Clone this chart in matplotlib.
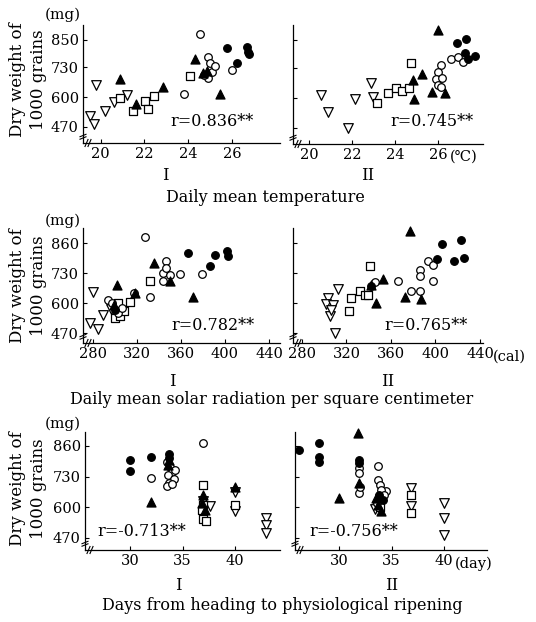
import matplotlib
matplotlib.use("Agg")
import matplotlib.pyplot as plt

# ---------------- data ----------------
# group codes: v = open inverted triangle, s = open square, o = open circle,
#              O = filled circle, T = filled triangle
temp1_x = [19.8, 19.5, 19.7, 20.2, 20.6, 21.2,
           20.9, 21.5, 22.05, 22.15, 22.45, 24.1,
           20.9, 21.6, 22.85, 24.3, 24.7, 25.45, 24.85,
           24.55, 23.8, 24.9, 25.0, 24.9, 25.1, 25.25, 26.0, 24.75,
           25.8, 26.25, 26.7, 26.75, 26.8]
temp1_y = [655, 517, 485, 538, 577, 608,
           596, 538, 582, 550, 606, 693,
           680, 570, 644, 766, 705, 615, 715,
           875, 615, 775, 751, 683, 712, 734, 717, 698,
           814, 751, 817, 799, 789]
temp1_g = list("vvvvvv" "ssssss" "TTTTTTT" "ooooooooo" "OOOOO")

temp2_x = [20.55, 20.9, 21.8, 22.15, 22.9, 23.0,
           23.15, 23.7, 24.05, 24.35, 24.65, 24.75,
           26.0, 25.25, 24.85, 24.9, 25.75, 26.35,
           26.15, 26.0, 25.9, 26.2, 26.0, 26.15, 26.6, 26.95, 27.15,
           26.9, 27.3, 27.25, 27.4, 27.75]
temp2_y = [612, 540, 468, 595, 666, 605,
           579, 620, 641, 631, 641, 749,
           893, 703, 677, 594, 627, 622,
           742, 713, 680, 684, 656, 646, 766, 778, 756,
           838, 853, 792, 766, 781]
temp2_g = list("vvvvvv" "ssssss" "TTTTTT" "ooooooooo" "OOOOO")

rad1_x = [280, 277, 285, 289, 296,
          303, 314, 331.5, 300, 305, 308,
          302, 318.5, 335.7, 350, 371, 299,
          327.6, 331.5, 343.6, 346.6, 346.6, 343.6, 350, 358.7, 379, 317, 294, 303, 297, 306,
          366, 391, 386.5, 401.6, 403, 300]
rad1_y = [648, 513, 489, 550, 575,
          600, 603, 694, 535, 545, 565,
          679, 643, 773, 694, 625, 590,
          885, 625, 730, 781, 752, 697, 720, 726, 726, 643, 615, 557, 600, 580,
          817, 809, 759, 824, 802, 570]
rad1_g = list("vvvvv" "ssssss" "TTTTTT" "oooooooooooooo" "OOOOOO")

rad2_x = [312.5, 303.6, 302, 308, 305, 309.6, 306,
          322.4, 324.5, 332, 336.4, 339.4, 341,
          376.7, 341.8, 346.9, 352.8, 372.2, 387.2,
          345.4, 366.4, 378.4, 385.8, 385.8, 385.8, 393.3, 397.8, 397.8,
          405.7, 401.5, 416.4, 423, 426, 342]
rad2_y = [662, 622, 596, 593, 542, 470, 570,
          567, 622, 654, 636, 633, 759,
          910, 680, 600, 706, 625, 619,
          691, 697, 654, 654, 744, 716, 783, 765, 697,
          856, 792, 783, 874, 797, 672]
rad2_g = list("vvvvvvv" "ssssss" "TTTTTT" "ooooooooo" "OOOOOO")

days1_x = [30, 30, 32, 33.7, 33.7,
           32, 37, 33.5, 33.8, 34.0, 33.6, 34.2, 33.7, 33.5, 34.3, 34.0,
           32, 33.7, 33.6, 37, 36.9, 37.1, 40,
           37, 37, 36.9, 37, 37.2, 40,
           37.6, 40, 40, 43, 43, 43, 37.0]
days1_y = [801, 754, 815, 825, 808,
           726, 871, 790, 770, 750, 735, 720, 705, 690, 760, 700,
           621, 800, 780, 650, 620, 590, 688,
           695, 610, 590, 550, 540, 611,
           604, 663, 583, 555, 526, 491, 625]
days1_g = list("OOOOO" "ooooooooooo" "TTTTTTT" "ssssss" "vvvvvvv")

days2_x = [26.2, 28.1, 28.1, 28.1, 31.9, 31.9, 33.8, 34.2,
           31.8, 30, 31.9, 33.7, 34.0, 33.5,
           31.9, 31.9, 31.9, 32.0, 33.7, 33.7, 33.9, 34.5, 34.0, 33.6, 34.3,
           33.4, 36.9, 36.9, 40.0, 40.0, 40.0,
           36.9, 36.9, 33.9]
days2_y = [843, 871, 815, 790, 801, 787, 650, 630,
           916, 639, 702, 610, 585, 640,
           766, 745, 660, 685, 773, 716, 695, 667, 675, 620, 650,
           592, 681, 604, 618, 554, 484,
           650, 576, 600]
days2_g = list("OOOOOOOO" "TTTTTT" "ooooooooooo" "vvvvvv" "sss")

temp_ticks = [20, 22, 24, 26]
rad_ticks = [280, 320, 360, 400, 440]
day_ticks = [30, 35, 40]
w_ticks_row1 = [470, 600, 730, 850]
w_ticks_row23 = [470, 600, 730, 860]

r_texts = ["r=0.836**", "r=0.745**", "r=0.782**", "r=0.765**",
           "r=-0.713**", "r=-0.756**"]
captions = ["Daily mean temperature",
            "Daily mean solar radiation per square centimeter",
            "Days from heading to physiological ripening"]
units = ["(\u2103)", "(cal)", "(day)"]
ylab = "Dry weight of\n1000 grains"

# ---------------- figure ----------------
W, H = 536, 622
fig = plt.figure(figsize=(W / 100, H / 100), dpi=100)
plt.rcParams['font.family'] = ['DejaVu Serif', 'DejaVu Sans']

STYLE = {
    'v': dict(marker='v', facecolors='white', edgecolors='black', s=48, zorder=3),
    's': dict(marker='s', facecolors='white', edgecolors='black', s=30, zorder=3),
    'o': dict(marker='o', facecolors='white', edgecolors='black', s=30, zorder=3),
    'O': dict(marker='o', facecolors='black', edgecolors='black', s=30, zorder=4),
    'T': dict(marker='^', facecolors='black', edgecolors='black', s=42, zorder=4),
}


def add_ax(x0, x1, ytop, ybot):
    return fig.add_axes([x0 / W, 1 - ybot / H, (x1 - x0) / W, (ybot - ytop) / H])


def px(x, y):
    return x / W, 1 - y / H


def style_ax(ax, xticks, yticks, show_ylabels, wpx, hpx):
    for s in ('top', 'right'):
        ax.spines[s].set_visible(False)
    for s in ('left', 'bottom'):
        ax.spines[s].set_linewidth(0.9)
    ax.set_xticks(xticks)
    ax.set_yticks(yticks)
    ax.tick_params(direction='in', length=3, width=0.8, labelsize=10.5, pad=3)
    if not show_ylabels:
        ax.set_yticklabels([])
    # axis break marks
    for dx in (3.5, 6.5):
        ax.plot([(dx - 1.5) / wpx, (dx + 1.5) / wpx], [-3.5 / hpx, 3.5 / hpx],
                transform=ax.transAxes, color='black', lw=0.8, clip_on=False)
    for dy in (5.0, 7.5):
        ax.plot([-3 / wpx, 3 / wpx], [(dy - 1.2) / hpx, (dy + 1.2) / hpx],
                transform=ax.transAxes, color='black', lw=0.8, clip_on=False)


def scatter(ax, xs, ys, gs):
    for g in ['v', 's', 'o', 'O', 'T']:
        xx = [x for x, gg in zip(xs, gs) if gg == g]
        yy = [y for y, gg in zip(ys, gs) if gg == g]
        if xx:
            ax.scatter(xx, yy, linewidths=0.9, clip_on=False, **STYLE[g])


panels = [
    # (x0, x1, ytop, ybot, xlim, ylim, data, xticks, yticks, showy)
    (83, 280, 25, 143, (19.2, 28.2), (400, 915), (temp1_x, temp1_y, temp1_g), temp_ticks, w_ticks_row1, True),
    (293, 483, 25, 144, (19.26, 28.1), (400, 915), (temp2_x, temp2_y, temp2_g), temp_ticks, w_ticks_row1, False),
    (83, 280, 228, 343, (271, 450), (427, 925), (rad1_x, rad1_y, rad1_g), rad_ticks, w_ticks_row23, True),
    (293, 483, 228, 343, (272, 442.7), (427, 925), (rad2_x, rad2_y, rad2_g), rad_ticks, w_ticks_row23, False),
    (85, 280, 432, 550, (25.7, 44.3), (419, 919), (days1_x, days1_y, days1_g), day_ticks, w_ticks_row23, True),
    (295, 487, 432, 550, (25.8, 44.1), (419, 919), (days2_x, days2_y, days2_g), day_ticks, w_ticks_row23, False),
]

for (x0, x1, yt, yb, xl, yl, (dx, dy, dg), xt, yt_, showy) in panels:
    ax = add_ax(x0, x1, yt, yb)
    ax.set_xlim(*xl)
    ax.set_ylim(*yl)
    scatter(ax, dx, dy, dg)
    style_ax(ax, xt, yt_, showy, x1 - x0, yb - yt)

# r texts
r_pos = [(212, 122), (432, 122), (213, 326), (426, 325), (142, 532), (354, 531)]
for t, (x, y) in zip(r_texts, r_pos):
    fig.text(*px(x, y), t, ha='center', va='center', fontsize=11.5)

# (mg) and y labels
for ymg, ycen in [(15, 80), (221, 286), (424, 489)]:
    fig.text(*px(63, ymg), "(mg)", ha='center', va='center', fontsize=11)
    fig.text(*px(28, ycen), ylab, rotation=90, ha='center', va='center',
             fontsize=12, linespacing=1.35, multialignment='center')

# units at end of x axis
fig.text(*px(450, 157), units[0], ha='left', va='center', fontsize=10.5,
         family=['DejaVu Serif', 'DejaVu Sans'])
fig.text(*px(493, 357), units[1], ha='left', va='center', fontsize=10.5)
fig.text(*px(455, 564), units[2], ha='left', va='center', fontsize=10.5)

# roman numerals
for x, y, t in [(165, 175, "I"), (368, 175, "II"),
                (172, 381, "I"), (388, 381, "II"),
                (178, 585, "I"), (392, 585, "II")]:
    fig.text(*px(x, y), t, ha='center', va='center', fontsize=12)

# captions
for (x, y), t in zip([(265, 197), (272, 400), (282, 605)], captions):
    fig.text(*px(x, y), t, ha='center', va='center', fontsize=11.5)

fig.savefig("out.png", dpi=100)
